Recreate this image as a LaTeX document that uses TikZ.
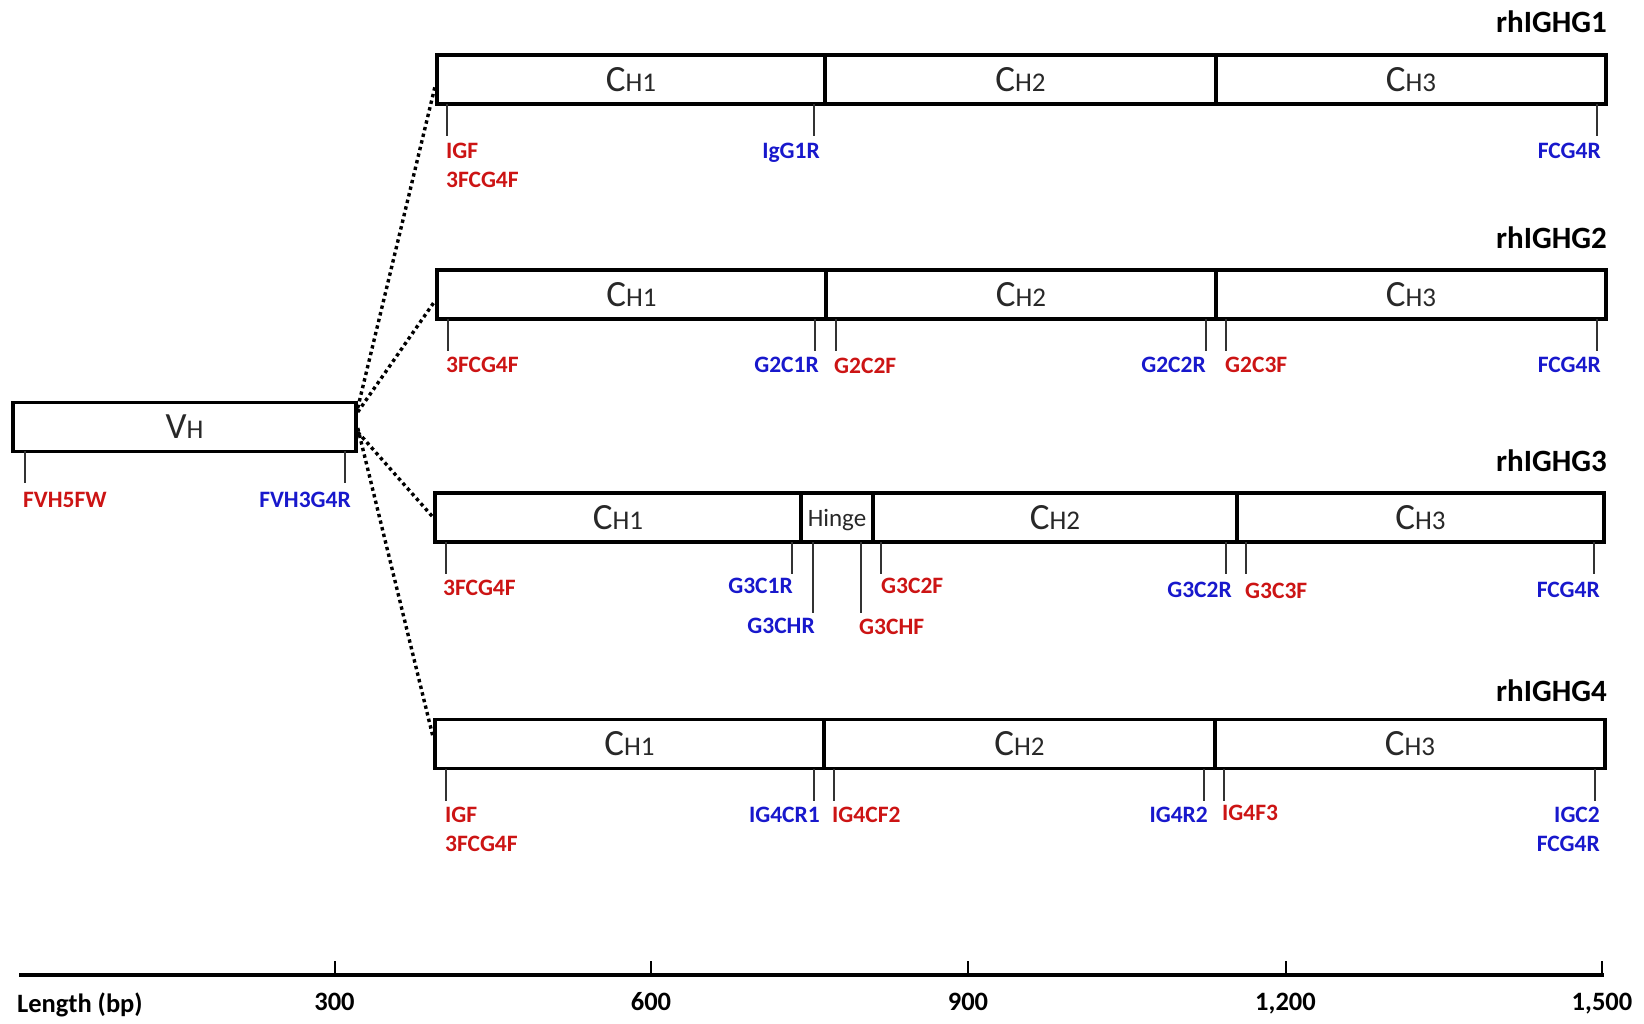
\documentclass[tikz,border=0pt]{standalone}
\usepackage{fontspec}
\setmainfont{Carlito}
\definecolor{pred}{RGB}{204,20,20}
\definecolor{pblue}{RGB}{24,24,204}
\definecolor{boxtext}{RGB}{40,40,40}

% domain label: large first letter, smaller subscript part
\newcommand{\domlab}[2]{{\fontsize{37}{37}\selectfont #1}{\fontsize{27}{27}\selectfont #2}}
% primer: name, tick x, tick top, tick bottom, label x, label centre y, colour style, side, text
\newcommand{\primer}[9]{%
  \coordinate (#1-a) at (#2,#3);
  \coordinate (#1-b) at (#2,#4);
  \draw[tickline] (#1-a) -- (#1-b);
  \node[#7, anchor=base #8] (#1) at (#5,#6+7.4) {#9};
}

\begin{document}
\begin{tikzpicture}[x=1pt,y=-1pt,
  seg/.style={draw=black, line width=3.5pt, inner sep=0pt, minimum height=49pt, text=boxtext},
  tickline/.style={line width=1.2pt, draw=black!80},
  lab/.style={font=\fontsize{23.5}{23.5}\selectfont\bfseries, inner sep=0pt},
  fw/.style={lab, text=pred},
  rv/.style={lab, text=pblue},
  title/.style={font=\fontsize{31}{31}\selectfont\bfseries, anchor=base east, inner sep=0pt},
  dotline/.style={line width=3.4pt, dash pattern=on 3.4pt off 3.4pt},
  axlab/.style={font=\fontsize{26.5}{26.5}\selectfont\bfseries, inner sep=0pt, anchor=base},
]
\useasboundingbox (0,0) rectangle (1644,1023);

% ---- variable region ----
\node[seg, minimum width=343pt] (vh) at (184.5,427) {\domlab{V}{H}};
\primer{fvh5}{25}{451}{483}{23}{500}{fw}{west}{FVH5FW}
\primer{fvh3}{345}{451}{483}{351}{500}{rv}{east}{FVH3G4R}

% ---- rhIGHG1 ----
\node[title] (t1) at (1607,32) {rhIGHG1};
\node[seg, minimum width=388pt] (g1a) at (631,79.5) {\domlab{C}{H1}};
\node[seg, minimum width=391pt] (g1b) at (1020.5,79.5) {\domlab{C}{H2}};
\node[seg, minimum width=390pt] (g1c) at (1411,79.5) {\domlab{C}{H3}};
\primer{g1p1}{447}{104}{136}{446}{151}{fw}{west}{IGF}
\node[fw, anchor=base west] (g1p1b) at (446,180+7.4) {3FCG4F};
\primer{g1p2}{814}{104}{136}{820}{151}{rv}{east}{IgG1R}
\primer{g1p3}{1597}{104}{136}{1601}{151}{rv}{east}{FCG4R}

% ---- rhIGHG2 ----
\node[title] (t2) at (1607,248) {rhIGHG2};
\node[seg, minimum width=389pt] (g2a) at (631.5,294.5) {\domlab{C}{H1}};
\node[seg, minimum width=390pt] (g2b) at (1021,294.5) {\domlab{C}{H2}};
\node[seg, minimum width=390pt] (g2c) at (1411,294.5) {\domlab{C}{H3}};
\primer{g2p1}{448}{319}{351}{446}{365}{fw}{west}{3FCG4F}
\primer{g2p2}{815}{319}{351}{819}{365}{rv}{east}{G2C1R}
\primer{g2p3}{836}{319}{351}{834}{366}{fw}{west}{G2C2F}
\primer{g2p4}{1206}{319}{351}{1206}{365}{rv}{east}{G2C2R}
\primer{g2p5}{1226}{319}{351}{1225}{365}{fw}{west}{G2C3F}
\primer{g2p6}{1597}{319}{351}{1601}{365}{rv}{east}{FCG4R}

% ---- rhIGHG3 ----
\node[title] (t3) at (1607,471) {rhIGHG3};
\node[seg, minimum width=366pt] (g3a) at (618,517.5) {\domlab{C}{H1}};
\node[seg, minimum width=72pt, font=\fontsize{25}{25}\selectfont] (g3h) at (837,517.5) {\raisebox{-8.8pt}[0pt][0pt]{Hinge}};
\node[seg, minimum width=364pt] (g3b) at (1055,517.5) {\domlab{C}{H2}};
\node[seg, minimum width=367pt] (g3c) at (1420.5,517.5) {\domlab{C}{H3}};
\primer{g3p1}{446}{542}{574}{443}{588}{fw}{west}{3FCG4F}
\primer{g3p2}{792}{542}{574}{793}{586}{rv}{east}{G3C1R}
\primer{g3p3}{813}{542}{613}{815}{626}{rv}{east}{G3CHR}
\primer{g3p4}{861}{542}{613}{859}{627}{fw}{west}{G3CHF}
\primer{g3p5}{881}{542}{574}{881}{586}{fw}{west}{G3C2F}
\primer{g3p6}{1226}{542}{574}{1232}{590}{rv}{east}{G3C2R}
\primer{g3p7}{1246}{542}{574}{1245}{591}{fw}{west}{G3C3F}
\primer{g3p8}{1594}{542}{574}{1600}{590}{rv}{east}{FCG4R}

% ---- rhIGHG4 ----
\node[title] (t4) at (1607,701) {rhIGHG4};
\node[seg, minimum width=389pt] (g4a) at (629.5,744) {\domlab{C}{H1}};
\node[seg, minimum width=391pt] (g4b) at (1019.5,744) {\domlab{C}{H2}};
\node[seg, minimum width=390pt] (g4c) at (1410,744) {\domlab{C}{H3}};
\primer{g4p1}{446}{769}{801}{445}{815}{fw}{west}{IGF}
\node[fw, anchor=base west] (g4p1b) at (445,844+7.4) {3FCG4F};
\primer{g4p2}{814}{769}{801}{820}{815}{rv}{east}{IG4CR1}
\primer{g4p3}{834}{769}{801}{832}{815}{fw}{west}{IG4CF2}
\primer{g4p4}{1204}{769}{801}{1208}{815}{rv}{east}{IG4R2}
\primer{g4p5}{1224}{769}{801}{1222}{813}{fw}{west}{IG4F3}
\primer{g4p6}{1595}{769}{801}{1600}{815}{rv}{east}{IGC2}
\node[rv, anchor=base east] (g4p6b) at (1600,844+7.4) {FCG4R};

% ---- fan from the variable region to each constant region ----
\draw[dotline] ([yshift=19pt]vh.east) -- ([yshift=-6pt]g1a.west);
\draw[dotline] ([yshift=15pt]vh.east) -- ([yshift=-6pt]g2a.west);
\draw[dotline] ([yshift=-5pt]vh.east) -- (g3a.west);
\draw[dotline] ([yshift=-1pt]vh.east) -- ([yshift=6pt]g4a.west);

% ---- length axis ----
\coordinate (ax0) at (19,975);
\coordinate (ax1) at (1604,975);
\draw[line width=4pt] (ax0) -- (ax1);
\foreach \x/\t [count=\i] in {334.5/300, 651/600, 968/900, 1285.5/{1,200}, 1602/{1,500}} {
  \coordinate (tk\i) at (\x,961);
  \coordinate (tb\i) at (\x,975);
  \draw[line width=2pt] (tk\i) -- (tb\i);
  \node[axlab] (al\i) at (\x,1010) {\t};
}
\node[axlab, anchor=base west] (axname) at (17,1012) {Length (bp)};
\end{tikzpicture}
\end{document}
